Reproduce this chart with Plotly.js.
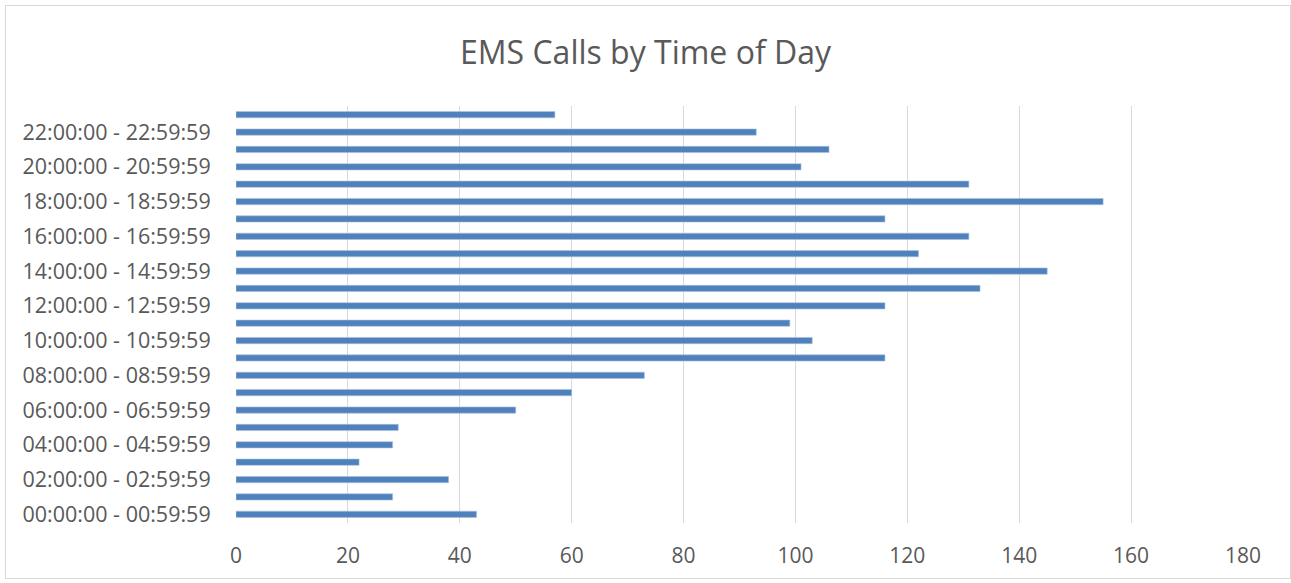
<!DOCTYPE html>
<html>
<head>
<meta charset="utf-8">
<script src="https://cdn.plot.ly/plotly-3.0.1.min.js"></script>
<style>
html,body{margin:0;padding:0;background:#fff;}
#chart{position:absolute;left:0;top:0;width:1291px;height:583px;}
#frame{position:absolute;left:5px;top:5px;width:1284px;height:572px;border:1px solid #d9d9d9;pointer-events:none;}
</style>
</head>
<body>
<div id="chart"></div>
<div id="frame"></div>
<script>
const categories = [
  "00:00:00 - 00:59:59","01:00:00 - 01:59:59","02:00:00 - 02:59:59","03:00:00 - 03:59:59",
  "04:00:00 - 04:59:59","05:00:00 - 05:59:59","06:00:00 - 06:59:59","07:00:00 - 07:59:59",
  "08:00:00 - 08:59:59","09:00:00 - 09:59:59","10:00:00 - 10:59:59","11:00:00 - 11:59:59",
  "12:00:00 - 12:59:59","13:00:00 - 13:59:59","14:00:00 - 14:59:59","15:00:00 - 15:59:59",
  "16:00:00 - 16:59:59","17:00:00 - 17:59:59","18:00:00 - 18:59:59","19:00:00 - 19:59:59",
  "20:00:00 - 20:59:59","21:00:00 - 21:59:59","22:00:00 - 22:59:59","23:00:00 - 23:59:59"
];
const calls = [43, 28, 38, 22, 28, 29, 50, 60, 73, 116, 103, 99,
               116, 133, 145, 122, 131, 116, 155, 131, 101, 106, 93, 57];
const shownLabels = categories.filter((c, i) => i % 2 === 0);
const xTicks = [0, 20, 40, 60, 80, 100, 120, 140, 160, 180];

const fontFam = '"Open Sans", "Noto Sans", sans-serif';
const trace = {
  type: 'bar',
  orientation: 'h',
  y: categories,
  x: calls,
  width: 0.36,
  marker: {color: '#4f81bd', line: {color: '#a9c1df', width: 0.6}},
  hoverinfo: 'x+y'
};
const layout = {
  width: 1291, height: 583,
  margin: {l: 236, r: 48, t: 106, b: 60},
  paper_bgcolor: '#fff', plot_bgcolor: '#fff',
  title: {text: 'EMS Calls by Time of Day', x: 0.5, xref: 'container', xanchor: 'center',
          y: 52, yref: 'container', yanchor: 'middle',
          font: {family: fontFam, size: 32, color: '#595959'}},
  showlegend: false,
  xaxis: {
    range: [0, 180], tickvals: xTicks, ticktext: xTicks.map(String),
    showgrid: true, gridcolor: '#d9d9d9', gridwidth: 1.2, zeroline: false,
    showline: false, ticks: 'outside', ticklen: 14, tickcolor: 'rgba(0,0,0,0)',
    tickfont: {family: fontFam, size: 21, color: '#595959'}, fixedrange: true
  },
  yaxis: {
    type: 'category', categoryorder: 'array', categoryarray: categories,
    range: [-0.5, 23.5],
    tickmode: 'array', tickvals: shownLabels, ticktext: shownLabels,
    showgrid: false, zeroline: false, showline: false,
    ticks: 'outside', ticklen: 20, tickcolor: 'rgba(0,0,0,0)',
    tickfont: {family: fontFam, size: 21.5, color: '#595959'}, fixedrange: true
  }
};
Plotly.newPlot('chart', [trace], layout, {displayModeBar: false, staticPlot: true});
</script>
</body>
</html>
